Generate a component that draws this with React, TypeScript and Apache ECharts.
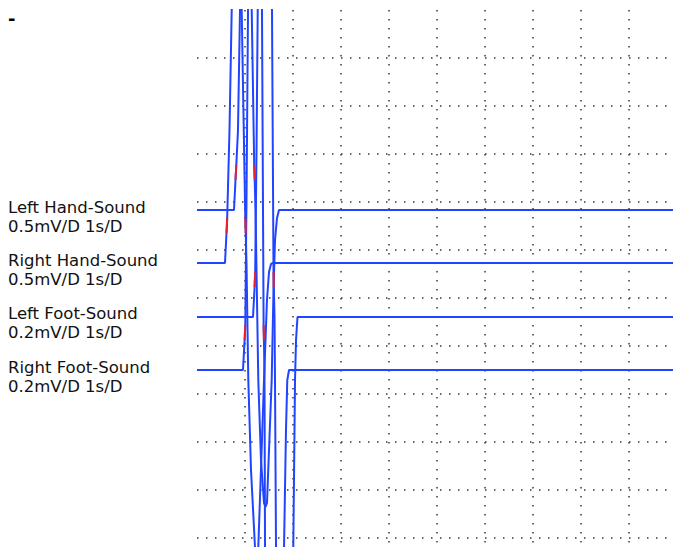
import React, { useEffect, useRef } from "react";
import * as echarts from "echarts";

// Channel names and scale labels
const CHANNELS = ["Left Hand-Sound", "Right Hand-Sound", "Left Foot-Sound", "Right Foot-Sound"];
const SCALE_LABELS = ["0.5mV/D 1s/D", "0.5mV/D 1s/D", "0.2mV/D 1s/D", "0.2mV/D 1s/D"];
const MV_PER_DIV = [0.5, 0.5, 0.2, 0.2];

// Time (s) and amplitude (mV) for each channel
const leftHandT = [0, 0.771, 0.802, 0.819, 0.854, 0.896, 1.021, 1.14, 1.192, 1.202, 1.219, 1.277, 1.333, 1.396, 1.427, 1.458, 1.556, 1.594, 1.625, 1.667, 1.708, 9.917];
const leftHandV = [0, 0, 0.3125, 0.469, 0.833, 2.083, 3.75, 2.083, 0.469, 0.3125, 0, -1.771, -2.604, -3.052, -3.094, -3.052, -1.771, -0.833, -0.3125, -0.083, 0, 0];

const rightHandT = [0, 0.583, 0.615, 0.629, 0.677, 0.723, 0.827, 0.931, 1.006, 1.015, 1.031, 1.069, 1.125, 1.208, 1.244, 1.277, 1.354, 1.396, 1.458, 1.5, 1.542, 1.583, 9.917];
const rightHandV = [0, 0, 0.3125, 0.469, 1.385, 2.635, 4.302, 2.635, 0.469, 0.3125, 0, -1.219, -2.156, -2.958, -3.51, -2.958, -1.844, -1.219, -0.385, -0.094, -0.01, 0, 0];

const leftFootT = [0, 1.167, 1.2, 1.2125, 1.24, 1.265, 1.417, 1.5625, 1.594, 1.6, 1.615, 1.625, 1.646, 1.729, 1.833, 1.938, 2.006, 2.042, 2.063, 2.094, 9.917];
const leftFootV = [0, 0, 0.125, 0.1875, 0.696, 1.279, 2.0, 1.279, 0.1875, 0.125, 0, -0.2625, -0.958, -1.375, -1.5, -1.375, -0.958, -0.2625, -0.096, 0, 0];

const rightFootT = [0, 0.958, 0.992, 1.006, 1.031, 1.063, 1.208, 1.354, 1.3875, 1.394, 1.406, 1.417, 1.438, 1.521, 1.646, 1.771, 1.813, 1.854, 1.881, 1.917, 9.917];
const rightFootV = [0, 0, 0.125, 0.1875, 0.708, 1.5, 2.167, 1.5, 0.1875, 0.125, 0, -0.7375, -1.208, -1.583, -1.75, -1.583, -0.7375, -0.25, -0.042, 0, 0];

// Index ranges of each trace highlighted in red (threshold crossings)
const RED_MARK_RANGES = [[2, 3], [8, 9]];

const TIMES = [leftHandT, rightHandT, leftFootT, rightFootT];
const VALUES = [leftHandV, rightHandV, leftFootV, rightFootV];

// Layout constants (display divisions from top of grid)
const CHANNEL_BASE_DIV = [4.1667, 5.2708, 6.3958, 7.5];
const LABEL_TOPS = [197.5, 250.8, 304.1, 357.5];

export default function App() {
  const ref = useRef<HTMLDivElement>(null);
  useEffect(() => {
    if (!ref.current) return;
    const chart = echarts.init(ref.current, null, { renderer: "svg" });
    const series: any[] = [];
    const toDisplay = (ci: number) =>
      TIMES[ci].map((t, i) => [t, CHANNEL_BASE_DIV[ci] - VALUES[ci][i] / MV_PER_DIV[ci]]);
    for (let ci = 0; ci < 4; ci++) {
      series.push({
        type: "line",
        name: CHANNELS[ci],
        data: toDisplay(ci),
        showSymbol: false,
        symbol: "none",
        lineStyle: { color: "#2144ff", width: 2 },
        clip: true,
        z: 2,
      });
    }
    for (let ci = 0; ci < 4; ci++) {
      const pts = toDisplay(ci);
      RED_MARK_RANGES.forEach(([a, b]) => {
        series.push({
          type: "line",
          data: pts.slice(a, b + 1),
          showSymbol: false,
          symbol: "none",
          lineStyle: { color: "#e8202e", width: 2 },
          clip: true,
          z: 3,
        });
      });
    }
    const graphics: any[] = [
      {
        type: "text",
        left: 8,
        top: 9,
        style: { text: "-", font: "bold 18px 'DejaVu Sans'", fill: "#000" },
      },
    ];
    CHANNELS.forEach((name, ci) => {
      graphics.push({
        type: "text",
        x: 8,
        y: LABEL_TOPS[ci],
        style: {
          text: name + "\n" + SCALE_LABELS[ci],
          fontFamily: "DejaVu Sans",
          fontSize: 16.5,
          lineHeight: 19,
          fill: "#111",
          verticalAlign: "top",
        },
      });
    });
    const gridLine = { color: "#3a3a3a", width: 1.5, type: [1.5, 7.5] };
    chart.setOption({
      animation: false,
      grid: { left: 197, top: 10, right: 0, bottom: 0 },
      xAxis: {
        type: "value",
        min: 0,
        max: 476 / 48,
        interval: 1,
        axisLine: { show: false },
        axisTick: { show: false },
        axisLabel: { show: false },
        splitLine: { show: true, showMinLine: false, showMaxLine: false, lineStyle: gridLine },
      },
      yAxis: {
        type: "value",
        inverse: true,
        min: 0,
        max: 537 / 48,
        interval: 1,
        axisLine: { show: false },
        axisTick: { show: false },
        axisLabel: { show: false },
        splitLine: { show: true, showMinLine: false, showMaxLine: false, lineStyle: gridLine },
      },
      graphic: graphics,
      series,
    });
    return () => chart.dispose();
  }, []);
  return (
    <div
      ref={ref}
      style={{ position: "fixed", left: 0, top: 0, width: 673, height: 547, background: "#fff" }}
    />
  );
}
